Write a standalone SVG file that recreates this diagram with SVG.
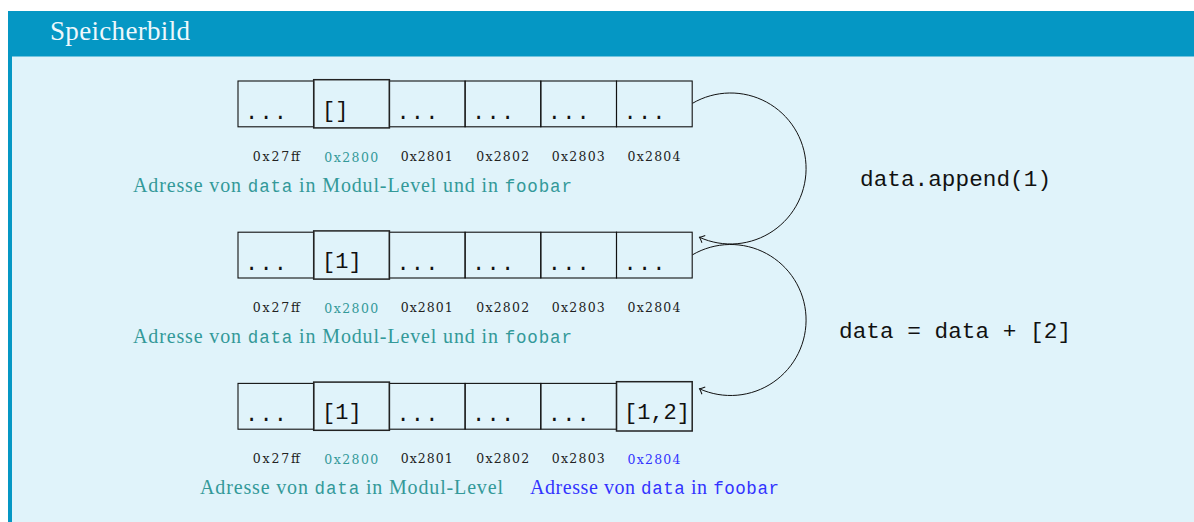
<svg xmlns="http://www.w3.org/2000/svg" width="1194" height="522" viewBox="0 0 1194 522">
<style>
.cell{fill:none;stroke:#111;stroke-width:1.1}
.hl{fill:none;stroke:#222;stroke-width:1.5}
.ct{font-family:"Liberation Mono",monospace;font-size:22px;fill:#111}
.dots{font-family:"Liberation Mono",monospace;font-size:22px;fill:#111;letter-spacing:1.2px}
.addr{font-family:"DejaVu Serif",serif;font-size:12.5px;fill:#222;text-anchor:middle}
.cap{font-family:"Liberation Serif",serif;font-size:20px}
.mono{font-family:"Liberation Mono",monospace;font-size:17.5px}
.teal{fill:#339999}
.blue{fill:#3333ff}
.op{font-family:"Liberation Mono",monospace;font-size:22.7px;fill:#111}
.conn{fill:none;stroke:#111;stroke-width:1}
</style>
<defs>
<marker id="arr" markerUnits="userSpaceOnUse" markerWidth="12" markerHeight="12" viewBox="-6 -6 12 12" refX="0" refY="0" orient="auto">
<path d="M-4.5,-4 Q-1.5,-1 0,0 Q-1.5,1 -4.5,4" fill="none" stroke="#111" stroke-width="1"/>
</marker>
</defs>
<g id="frame">
<rect x="8" y="11" width="1186" height="511" fill="#0597c4"/>
<rect x="12" y="56.5" width="1182" height="466" fill="#e0f3fa"/>
<text x="50" y="40" font-family="Liberation Serif,serif" font-size="27" fill="#eef8fc" textLength="140">Speicherbild</text>
</g>
<g id="row1">
<rect class="cell" x="238" y="81" width="75.7" height="45.8"/>
<rect class="cell" x="389.4" y="81" width="75.7" height="45.8"/>
<rect class="cell" x="465.1" y="81" width="75.7" height="45.8"/>
<rect class="cell" x="540.8" y="81" width="75.7" height="45.8"/>
<rect class="cell" x="616.5" y="81" width="75.7" height="45.8"/>
<rect class="hl" x="313.7" y="79.7" width="75.7" height="48.2"/>
<text class="dots" x="245" y="118.5">...</text>
<text class="ct" x="322" y="116.5">[]</text>
<text class="dots" x="396.4" y="118.5">...</text>
<text class="dots" x="472.1" y="118.5">...</text>
<text class="dots" x="547.8" y="118.5">...</text>
<text class="dots" x="623.5" y="118.5">...</text>
<text class="addr" x="276.3" y="160.5" textLength="47">0x27ff</text>
<text class="addr teal" x="351.3" y="161.5" textLength="54">0x2800</text>
<text class="addr" x="426.7" y="160.5" textLength="52">0x2801</text>
<text class="addr" x="502.7" y="160.5" textLength="53">0x2802</text>
<text class="addr" x="578.3" y="160.5" textLength="53">0x2803</text>
<text class="addr" x="654" y="160.5" textLength="53">0x2804</text>
<text class="cap teal" x="133" y="191.5" textLength="439">Adresse von <tspan class="mono">data</tspan> in Modul-Level und in <tspan class="mono">foobar</tspan></text>
</g>
<g id="row2">
<rect class="cell" x="238" y="232.2" width="75.7" height="45.8"/>
<rect class="cell" x="389.4" y="232.2" width="75.7" height="45.8"/>
<rect class="cell" x="465.1" y="232.2" width="75.7" height="45.8"/>
<rect class="cell" x="540.8" y="232.2" width="75.7" height="45.8"/>
<rect class="cell" x="616.5" y="232.2" width="75.7" height="45.8"/>
<rect class="hl" x="313.7" y="230.9" width="75.7" height="48.2"/>
<text class="dots" x="245" y="269.7">...</text>
<text class="ct" x="322" y="267.7">[1]</text>
<text class="dots" x="396.4" y="269.7">...</text>
<text class="dots" x="472.1" y="269.7">...</text>
<text class="dots" x="547.8" y="269.7">...</text>
<text class="dots" x="623.5" y="269.7">...</text>
<text class="addr" x="276.3" y="311.7" textLength="47">0x27ff</text>
<text class="addr teal" x="351.3" y="312.7" textLength="54">0x2800</text>
<text class="addr" x="426.7" y="311.7" textLength="52">0x2801</text>
<text class="addr" x="502.7" y="311.7" textLength="53">0x2802</text>
<text class="addr" x="578.3" y="311.7" textLength="53">0x2803</text>
<text class="addr" x="654" y="311.7" textLength="53">0x2804</text>
<text class="cap teal" x="133" y="342.7" textLength="439">Adresse von <tspan class="mono">data</tspan> in Modul-Level und in <tspan class="mono">foobar</tspan></text>
</g>
<g id="row3">
<rect class="cell" x="238" y="383.4" width="75.7" height="45.8"/>
<rect class="cell" x="389.4" y="383.4" width="75.7" height="45.8"/>
<rect class="cell" x="465.1" y="383.4" width="75.7" height="45.8"/>
<rect class="cell" x="540.8" y="383.4" width="75.7" height="45.8"/>
<rect class="hl" x="313.7" y="382.1" width="75.7" height="48.2"/>
<rect class="hl" x="616.5" y="381.7" width="75.7" height="49.3"/>
<text class="dots" x="245" y="420.9">...</text>
<text class="ct" x="322" y="418.9">[1]</text>
<text class="dots" x="396.4" y="420.9">...</text>
<text class="dots" x="472.1" y="420.9">...</text>
<text class="dots" x="547.8" y="420.9">...</text>
<text class="ct" x="624" y="418.9">[1,2]</text>
<text class="addr" x="276.3" y="462.9" textLength="47">0x27ff</text>
<text class="addr teal" x="351.3" y="463.9" textLength="54">0x2800</text>
<text class="addr" x="426.7" y="462.9" textLength="52">0x2801</text>
<text class="addr" x="502.7" y="462.9" textLength="53">0x2802</text>
<text class="addr" x="578.3" y="462.9" textLength="53">0x2803</text>
<text class="addr blue" x="654" y="463.9" textLength="53">0x2804</text>
<text class="cap teal" x="200" y="494" textLength="303">Adresse von <tspan class="mono">data</tspan> in Modul-Level</text>
<text class="cap blue" x="530" y="494" textLength="249">Adresse von <tspan class="mono">data</tspan> in <tspan class="mono">foobar</tspan></text>
</g>
<g id="connectors">
<path class="conn" d="M692.5,103.3 A75.5,75.5 0 1 1 699.5,237.3" marker-end="url(#arr)"/>
<path class="conn" d="M692.5,254.8 A75.5,75.5 0 1 1 699.5,388.8" marker-end="url(#arr)"/>
</g>
<g id="labels">
<text class="op" x="860" y="186" textLength="191">data.append(1)</text>
<text class="op" x="839" y="338" textLength="232">data = data + [2]</text>
</g>
</svg>
